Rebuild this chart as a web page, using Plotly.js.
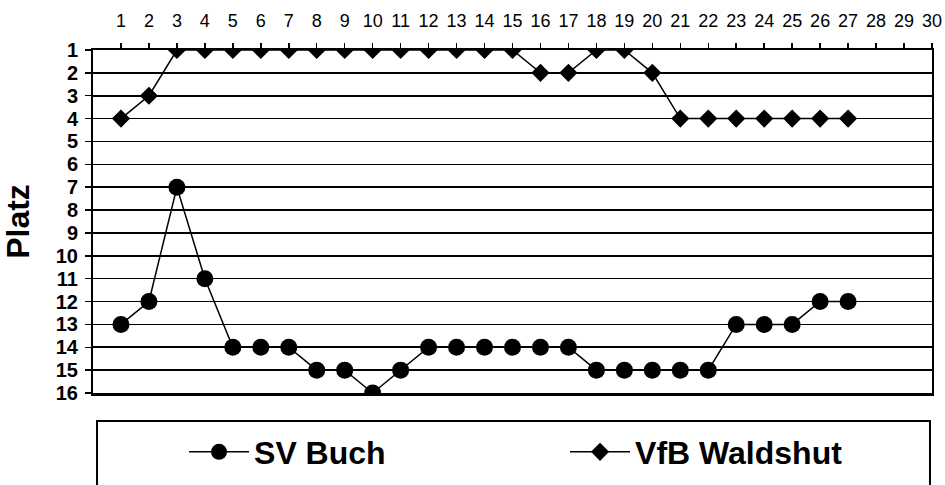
<!DOCTYPE html>
<html>
<head>
<meta charset="utf-8">
<script src="https://cdn.plot.ly/plotly-3.0.1.min.js"></script>
<style>html,body{margin:0;padding:0;background:#fff;}#chart{width:945px;height:485px;}</style>
</head>
<body>
<div id="chart"></div>
<script>
const spieltage = [1,2,3,4,5,6,7,8,9,10,11,12,13,14,15,16,17,18,19,20,21,22,23,24,25,26,27];
const svBuch = [13,12,7,11,14,14,14,15,15,16,15,14,14,14,14,14,14,15,15,15,15,15,13,13,13,12,12];
const vfbWaldshut = [4,3,1,1,1,1,1,1,1,1,1,1,1,1,1,2,2,1,1,2,4,4,4,4,4,4,4];
const xTicks = Array.from({length:30},(_,i)=>i+1);
const yTicks = Array.from({length:16},(_,i)=>i+1);

const FONT = 'Arial, "Liberation Sans", sans-serif';

const traces = [
  {x: spieltage, y: svBuch, name: 'SV Buch', mode: 'lines+markers',
   line:{color:'#000', width:1.5}, marker:{symbol:'circle', size:17, color:'#000'}},
  {x: spieltage, y: vfbWaldshut, name: 'VfB Waldshut', mode: 'lines+markers',
   line:{color:'#000', width:1.5}, marker:{symbol:'diamond', size:14, color:'#000'}}
];

const layout = {
  width: 945, height: 485,
  paper_bgcolor:'#fff', plot_bgcolor:'#fff',
  margin:{l:93, r:13, t:50, b:92, autoexpand:false},
  font:{family:FONT, color:'#000'},
  showlegend:true,
  xaxis:{
    side:'top', range:[0,30], tickvals:xTicks, ticktext:xTicks.map(String),
    ticks:'outside', ticklen:5, tickwidth:1.5, tickcolor:'#000',
    showline:true, linecolor:'#000', linewidth:2.5, mirror:true,
    showgrid:false, zeroline:false,
    tickfont:{size:18, family:FONT}, ticklabelstandoff:8
  },
  yaxis:{
    range:[16,1], tickvals:yTicks, ticktext:yTicks.map(String),
    ticks:'outside', ticklen:6, tickwidth:1.5, tickcolor:'#000',
    showline:true, linecolor:'#000', linewidth:2, mirror:true,
    showgrid:true, gridcolor:'#000', gridwidth:1.6, zeroline:false,
    tickfont:{size:20, family:FONT, weight:'bold'}, ticklabelstandoff:3,
    automargin:true,
    title:{text:'Platz', font:{size:32, family:FONT, weight:'bold'}, standoff:20}
  },
  legend:{
    orientation:'h', x:0.1085, y:-0.172, xanchor:'left', yanchor:'middle',
    font:{size:32, family:FONT, weight:'bold'}, entrywidth:306, entrywidthmode:'pixels',
    itemwidth:60, borderwidth:0, bgcolor:'rgba(0,0,0,0)', itemsizing:'trace'
  },
  shapes:[
    {type:'rect', xref:'paper', yref:'paper', x0:0.0048, x1:0.9976, y0:-0.29, y1:-0.0816,
     line:{color:'#000', width:2}, fillcolor:'rgba(0,0,0,0)'}
  ]
};

Plotly.newPlot('chart', traces, layout, {displayModeBar:false, staticPlot:true});
</script>
</body>
</html>
